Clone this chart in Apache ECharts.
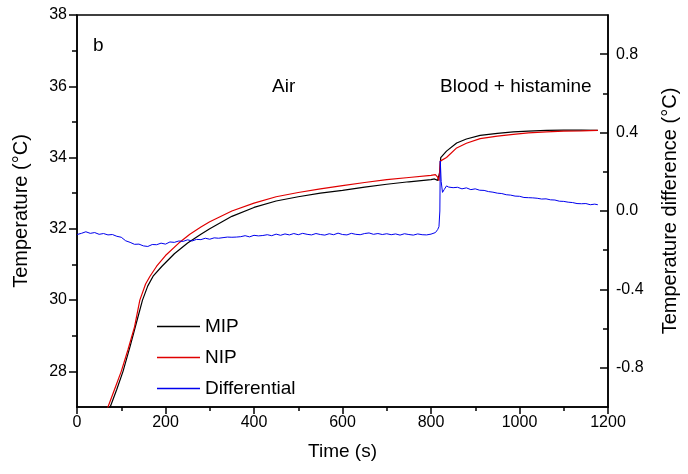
<!DOCTYPE html>
<html>
<head>
<meta charset="utf-8">
<script src="https://cdn.jsdelivr.net/npm/echarts@6/dist/echarts.min.js"></script>
<style>html,body{margin:0;padding:0;background:#fff;}#c{width:688px;height:474px;}</style>
</head>
<body>
<div id="c"></div>
<script>
// ---- data ----
var xTicks = [0, 200, 400, 600, 800, 1000, 1200];
var leftTickLabels = [28, 30, 32, 34, 36, 38];
var rightTickLabels = [-0.8, -0.4, 0.0, 0.4, 0.8];

var timeMIP = [60, 75, 90, 104, 120, 135, 148, 160, 172, 192, 220, 250, 280, 300, 350, 400, 450, 500, 550, 600, 650, 700, 750, 800, 808, 815, 818, 820, 822, 835, 858, 880, 911, 950, 986, 1020, 1061, 1100, 1140, 1177];
var mip = [26.65, 27.0, 27.5, 28.0, 28.7, 29.4, 30.0, 30.4, 30.67, 30.95, 31.3, 31.6, 31.85, 32.0, 32.35, 32.6, 32.78, 32.9, 33.0, 33.08, 33.17, 33.25, 33.32, 33.38, 33.4, 33.36, 33.33, 33.6, 34.0, 34.18, 34.41, 34.52, 34.62, 34.68, 34.72, 34.74, 34.76, 34.77, 34.77, 34.76];

var timeNIP = [55, 70, 85, 100, 115, 130, 142, 155, 165, 180, 200, 230, 255, 280, 300, 350, 400, 450, 500, 550, 600, 650, 700, 750, 800, 810, 815, 818, 821, 835, 858, 880, 911, 950, 986, 1020, 1061, 1100, 1140, 1177];
var nip = [26.6, 27.0, 27.5, 28.0, 28.6, 29.25, 30.0, 30.45, 30.67, 30.95, 31.25, 31.6, 31.85, 32.05, 32.2, 32.5, 32.72, 32.9, 33.02, 33.12, 33.21, 33.3, 33.38, 33.44, 33.5, 33.52, 33.45, 33.35, 33.9, 34.0, 34.27, 34.4, 34.53, 34.6, 34.65, 34.69, 34.72, 34.74, 34.75, 34.76];

var timeDiff = [0,10,20,30,40,50,60,70,80,90,100,110,120,130,140,150,160,170,180,190,200,210,220,230,240,250,260,270,280,290,300,310,320,330,340,350,360,370,380,390,400,410,420,430,440,450,460,470,480,490,500,510,520,530,540,550,560,570,580,590,600,610,620,630,640,650,660,670,680,690,700,710,720,730,740,750,760,770,780,790,800,810,815,818,820,821,823,826,830,835,840,850,860,870,880,890,900,910,920,930,940,950,960,970,980,990,1000,1010,1020,1030,1040,1050,1060,1070,1080,1090,1100,1110,1120,1130,1140,1150,1160,1170,1177];
var diff = [-0.120,-0.114,-0.106,-0.114,-0.110,-0.119,-0.115,-0.122,-0.120,-0.129,-0.134,-0.152,-0.160,-0.170,-0.169,-0.178,-0.181,-0.171,-0.172,-0.164,-0.169,-0.158,-0.160,-0.153,-0.155,-0.147,-0.153,-0.145,-0.146,-0.139,-0.144,-0.137,-0.139,-0.136,-0.133,-0.134,-0.133,-0.131,-0.126,-0.132,-0.124,-0.127,-0.125,-0.121,-0.126,-0.118,-0.124,-0.117,-0.122,-0.115,-0.121,-0.114,-0.119,-0.122,-0.115,-0.120,-0.123,-0.116,-0.121,-0.113,-0.120,-0.122,-0.114,-0.119,-0.121,-0.115,-0.112,-0.119,-0.115,-0.120,-0.116,-0.121,-0.117,-0.123,-0.116,-0.120,-0.123,-0.117,-0.121,-0.122,-0.118,-0.110,-0.095,-0.080,0.000,0.255,0.150,0.095,0.110,0.128,0.122,0.119,0.121,0.113,0.118,0.109,0.113,0.106,0.105,0.099,0.096,0.091,0.089,0.083,0.081,0.076,0.075,0.069,0.068,0.067,0.065,0.061,0.062,0.057,0.056,0.050,0.049,0.045,0.043,0.038,0.037,0.038,0.032,0.035,0.032];

function pairs(xs, ys) { return xs.map(function (x, i) { return [x, ys[i]]; }); }

var FONT = '"Liberation Sans", Arial, sans-serif';
var chart = echarts.init(document.getElementById('c'), null, {renderer: 'canvas'});
var lineCol = '#000';

chart.setOption({
  animation: false,
  backgroundColor: '#fff',
  grid: {left: 77, right: 80, top: 15, bottom: 67, show: true, borderColor: '#000', borderWidth: 1.5, backgroundColor: 'transparent'},
  legend: {
    orient: 'vertical', left: 157, top: 317, padding: 0, itemWidth: 43, itemHeight: 1.5, itemGap: 12,
    icon: 'rect',
    textStyle: {fontFamily: FONT, fontSize: 19, color: '#000', lineHeight: 19},
    data: ['MIP', 'NIP', 'Differential']
  },
  xAxis: {
    type: 'value', min: 0, max: 1200, interval: 200,
    name: 'Time (s)', nameLocation: 'middle', nameGap: 35,
    nameTextStyle: {fontFamily: FONT, fontSize: 19, color: '#000'},
    axisLine: {show: true, onZero: false, lineStyle: {color: lineCol, width: 1.5}},
    axisTick: {show: true, inside: false, length: 7, lineStyle: {color: lineCol, width: 1.5}},
    minorTick: {show: true, splitNumber: 2, length: 4, lineStyle: {color: lineCol, width: 1.5}},
    axisLabel: {fontFamily: FONT, fontSize: 16, color: '#000', margin: 8,
      customValues: xTicks, formatter: function (v) { return String(v); }},
    splitLine: {show: false}, minorSplitLine: {show: false}
  },
  yAxis: [
    {
      type: 'value', min: 27, max: 38, position: 'left',
      name: 'Temperature (°C)', nameLocation: 'middle', nameGap: 46,
      nameTextStyle: {fontFamily: FONT, fontSize: 20, color: '#000'},
      axisLine: {show: true, onZero: false, lineStyle: {color: lineCol, width: 1.5}},
      axisTick: {show: true, length: 8, customValues: leftTickLabels, lineStyle: {color: lineCol, width: 1.5}},
      axisLabel: {fontFamily: FONT, fontSize: 16, color: '#000', margin: 10, customValues: leftTickLabels},
      splitLine: {show: false}
    },
    {
      type: 'value', min: -1, max: 1, position: 'right',
      name: 'Temperature difference (°C)', nameLocation: 'middle', nameGap: 52,
      nameTextStyle: {fontFamily: FONT, fontSize: 20, color: '#000'},
      axisLine: {show: true, onZero: false, lineStyle: {color: lineCol, width: 1.5}},
      axisTick: {show: true, inside: true, length: 8, customValues: rightTickLabels, lineStyle: {color: lineCol, width: 1.5}},
      axisLabel: {fontFamily: FONT, fontSize: 16, color: '#000', margin: 8, customValues: rightTickLabels,
        formatter: function (v) { return v.toFixed(1); }},
      splitLine: {show: false}
    },
    {
      type: 'value', min: 27, max: 38, position: 'left', offset: 0,
      axisLine: {show: false},
      axisTick: {show: true, length: 5, customValues: [29, 31, 33, 35, 37], lineStyle: {color: lineCol, width: 1.5}},
      axisLabel: {show: false}, splitLine: {show: false}
    },
    {
      type: 'value', min: -1, max: 1, position: 'right', offset: 0,
      axisLine: {show: false},
      axisTick: {show: true, inside: true, length: 5, customValues: [-0.6, -0.2, 0.2, 0.6], lineStyle: {color: lineCol, width: 1.5}},
      axisLabel: {show: false}, splitLine: {show: false}
    }
  ],
  graphic: [
    {type: 'text', left: 93, top: 36, style: {text: 'b', font: '19px ' + FONT, fill: '#000'}},
    {type: 'text', left: 272, top: 77, style: {text: 'Air', font: '19px ' + FONT, fill: '#000'}},
    {type: 'text', left: 440, top: 77, style: {text: 'Blood + histamine', font: '19px ' + FONT, fill: '#000'}}
  ],
  series: [
    {name: 'MIP', type: 'line', yAxisIndex: 0, symbol: 'none', smooth: false, clip: true,
      lineStyle: {color: '#000', width: 1.2}, itemStyle: {color: '#000'}, data: pairs(timeMIP, mip)},
    {name: 'NIP', type: 'line', yAxisIndex: 0, symbol: 'none', smooth: false, clip: true,
      lineStyle: {color: '#e00000', width: 1.2}, itemStyle: {color: '#e00000'}, data: pairs(timeNIP, nip)},
    {name: 'Differential', type: 'line', yAxisIndex: 1, symbol: 'none', smooth: false, clip: true,
      lineStyle: {color: '#0000ee', width: 1}, itemStyle: {color: '#0000ee'}, data: pairs(timeDiff, diff)}
  ]
});
</script>
</body>
</html>
